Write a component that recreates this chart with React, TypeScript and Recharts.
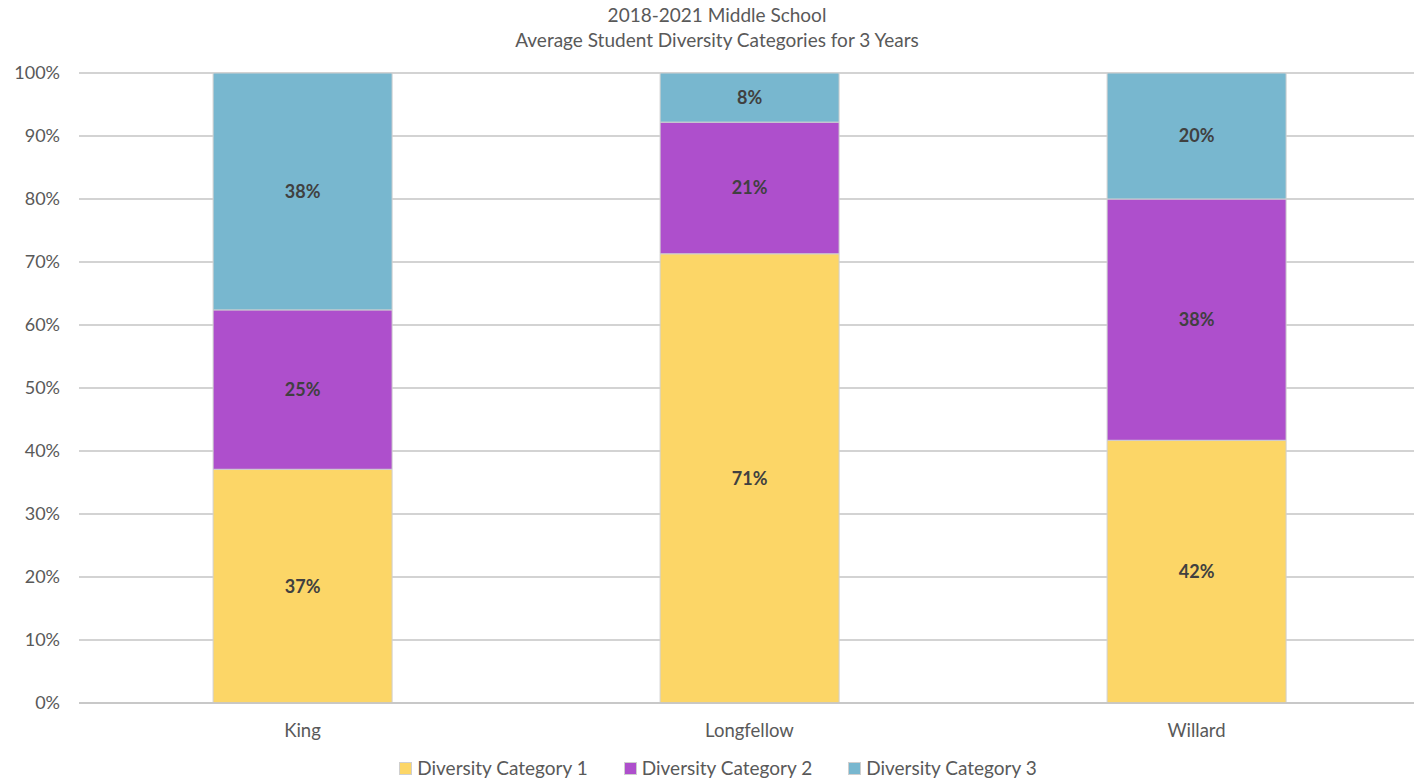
import React from "react";
import { BarChart, Bar, XAxis, YAxis, CartesianGrid, Legend, LabelList } from "recharts";

const schools = ["King", "Longfellow", "Willard"];
const category1 = [37.1, 71.3, 41.7];
const category2 = [25.3, 20.9, 38.3];
const category3 = [37.6, 7.8, 20.0];
const yTicks = [0, 10, 20, 30, 40, 50, 60, 70, 80, 90, 100];
const seriesNames = ["Diversity Category 1", "Diversity Category 2", "Diversity Category 3"];
const seriesColors = ["#FCD667", "#AE4FCC", "#78B7CF"];
const titleLines = ["2018-2021 Middle School", "Average Student Diversity Categories for 3 Years"];

const data = schools.map((s, i) => ({
  school: s,
  c1: category1[i],
  c2: category2[i],
  c3: category3[i],
}));

const FONT = "Lato, 'Open Sans', sans-serif";

const fmt = (v: any) => `${Math.round(Number(v))}%`;

const LegendContent = () => (
  <div style={{ display: "flex", justifyContent: "center", gap: 36, fontFamily: FONT, fontSize: 19, lineHeight: "22px", color: "#595959", marginLeft: 16 }}>
    {seriesNames.map((n, i) => (
      <div key={n} style={{ display: "flex", alignItems: "center" }}>
        <span style={{ display: "inline-block", width: 11, height: 11, background: seriesColors[i], border: "1px solid #cfcfcf", marginRight: 5 }} />
        <span>{n}</span>
      </div>
    ))}
  </div>
);

export default function App() {
  const keys = ["c1", "c2", "c3"];
  return (
    <div style={{ position: "absolute", left: 0, top: 0, width: 1414, height: 779, background: "#fff", fontFamily: FONT, overflow: "hidden" }}>
      <div style={{ position: "absolute", top: 2, left: 0, width: 1414, textAlign: "center", color: "#595959", fontSize: 19, lineHeight: "25px", zIndex: 2 }}>
        {titleLines.map((t) => (
          <div key={t} style={{ marginLeft: 20 }}>{t}</div>
        ))}
      </div>
      <BarChart
        width={1414}
        height={779}
        data={data}
        margin={{ top: 73, right: -6, left: 0, bottom: 0 }}
        barCategoryGap="30%"
      >
        <CartesianGrid vertical={false} stroke="#c4c4c4" strokeWidth={1.5} />
        <XAxis
          dataKey="school"
          height={54}
          tickLine={false}
          axisLine={{ stroke: "#c4c4c4", strokeWidth: 1.5 }}
          tick={{ fill: "#595959", fontSize: 18.5, fontFamily: FONT }}
          tickMargin={15}
        />
        <YAxis
          width={79}
          domain={[0, 100]}
          ticks={yTicks}
          tickFormatter={(v) => `${v}%`}
          tickLine={false}
          axisLine={false}
          tick={{ fill: "#595959", fontSize: 18, fontFamily: FONT }}
          tickMargin={13}
        />
        <Legend verticalAlign="bottom" height={22} content={<LegendContent />} />
        {keys.map((k, i) => (
          <Bar
            key={k}
            dataKey={k}
            name={seriesNames[i]}
            stackId="a"
            fill={seriesColors[i]}
            stroke="#d0d0d0"
            strokeWidth={1}
            isAnimationActive={false}
          >
            <LabelList
              dataKey={k}
              position="center"
              formatter={fmt}
              style={{ fill: "#404040", fontSize: 18, fontWeight: 700, fontFamily: FONT }}
            />
          </Bar>
        ))}
      </BarChart>
    </div>
  );
}
